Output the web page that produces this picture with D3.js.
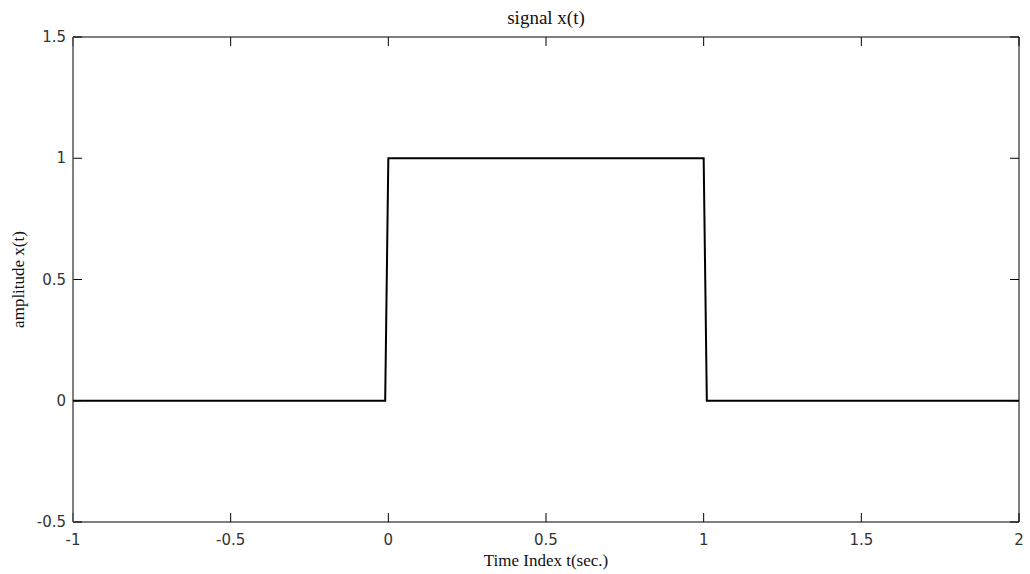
<!DOCTYPE html>
<html>
<head>
<meta charset="utf-8">
<script src="https://cdn.jsdelivr.net/npm/d3@7"></script>
<style>
  body { margin: 0; background: #fff; }
  text { font-family: "Liberation Serif", "Times New Roman", serif; fill: #111; }
  .tick-label { font-family: "DejaVu Sans", sans-serif; fill: #333; font-size: 15px; }
</style>
</head>
<body>
<svg id="chart" width="1030" height="574"></svg>
<script>
// signal samples (breakpoints of the sampled rectangular pulse)
var tValues = [-1, -0.01, 0, 1, 1.01, 2];
var xValues = [0, 0, 1, 1, 0, 0];
var xTicks = [-1, -0.5, 0, 0.5, 1, 1.5, 2];
var yTicks = [-0.5, 0, 0.5, 1, 1.5];

var svg = d3.select("#chart"),
    margin = {top: 37, right: 11, bottom: 52, left: 73},
    width = 1030 - margin.left - margin.right,
    height = 574 - margin.top - margin.bottom;

var x = d3.scaleLinear().domain([-1, 2]).range([margin.left, margin.left + width]);
var y = d3.scaleLinear().domain([-0.5, 1.5]).range([margin.top + height, margin.top]);

var tick = 9;

// inward ticks on all four sides
var g = svg.append("g").attr("stroke", "#000").attr("stroke-width", 1);
xTicks.forEach(function(d) {
  g.append("line").attr("x1", x(d)).attr("x2", x(d))
    .attr("y1", y(-0.5)).attr("y2", y(-0.5) - tick);
  g.append("line").attr("x1", x(d)).attr("x2", x(d))
    .attr("y1", y(1.5)).attr("y2", y(1.5) + tick);
});
yTicks.forEach(function(d) {
  g.append("line").attr("x1", x(-1)).attr("x2", x(-1) + tick)
    .attr("y1", y(d)).attr("y2", y(d));
  g.append("line").attr("x1", x(2)).attr("x2", x(2) - tick)
    .attr("y1", y(d)).attr("y2", y(d));
});

// spines
svg.append("line").attr("x1", x(-1)).attr("x2", x(2)).attr("y1", y(1.5)).attr("y2", y(1.5)).attr("stroke", "#000");
svg.append("line").attr("x1", x(-1)).attr("x2", x(2)).attr("y1", y(-0.5)).attr("y2", y(-0.5)).attr("stroke", "#000");
svg.append("line").attr("x1", x(-1)).attr("x2", x(-1)).attr("y1", y(1.5)).attr("y2", y(-0.5)).attr("stroke", "#555").attr("stroke-width", 1.5);
svg.append("line").attr("x1", x(2)).attr("x2", x(2)).attr("y1", y(1.5)).attr("y2", y(-0.5)).attr("stroke", "#000");

// tick labels
svg.append("g").selectAll("text").data(xTicks).enter().append("text")
    .attr("class", "tick-label")
    .attr("x", function(d) { return x(d); })
    .attr("y", y(-0.5) + 23)
    .attr("text-anchor", "middle")
    .text(function(d) { return d; });

svg.append("g").selectAll("text").data(yTicks).enter().append("text")
    .attr("class", "tick-label")
    .attr("x", x(-1) - 7)
    .attr("y", function(d) { return y(d) + 5; })
    .attr("text-anchor", "end")
    .text(function(d) { return d; });

// signal
var line = d3.line()
    .x(function(d, i) { return x(tValues[i]); })
    .y(function(d) { return y(d); });

svg.append("path")
    .datum(xValues)
    .attr("d", line)
    .attr("fill", "none")
    .attr("stroke", "#000")
    .attr("stroke-width", 2);

// titles
svg.append("text")
    .attr("x", margin.left + width / 2).attr("y", 24)
    .attr("text-anchor", "middle").attr("font-size", 19)
    .text("signal x(t)");

svg.append("text")
    .attr("x", margin.left + width / 2).attr("y", 566)
    .attr("text-anchor", "middle").attr("font-size", 17)
    .text("Time Index t(sec.)");

svg.append("text")
    .attr("transform", "translate(24," + (margin.top + height / 2) + ") rotate(-90)")
    .attr("text-anchor", "middle").attr("font-size", 17)
    .text("amplitude x(t)");
</script>
</body>
</html>
